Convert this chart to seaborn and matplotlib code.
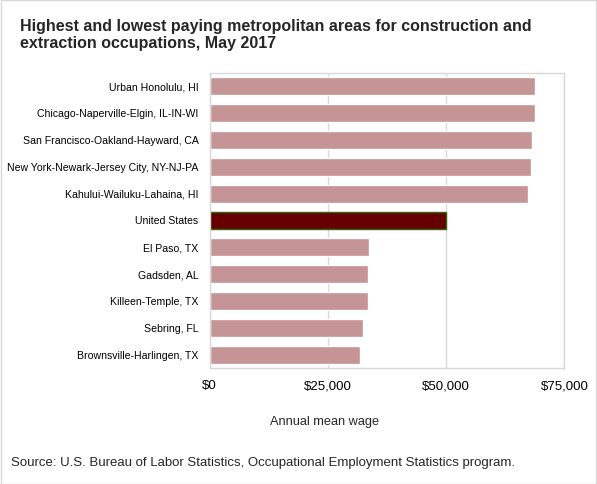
import matplotlib
matplotlib.use('Agg')
import matplotlib.pyplot as plt
import pandas as pd
import seaborn as sns
from matplotlib.ticker import FuncFormatter

# data
areas = ['Urban Honolulu, HI',
         'Chicago-Naperville-Elgin, IL-IN-WI',
         'San Francisco-Oakland-Hayward, CA',
         'New York-Newark-Jersey City, NY-NJ-PA',
         'Kahului-Wailuku-Lahaina, HI',
         'United States',
         'El Paso, TX',
         'Gadsden, AL',
         'Killeen-Temple, TX',
         'Sebring, FL',
         'Brownsville-Harlingen, TX',
         ]
wages = [68800, 68800, 68170, 67960, 67320, 49920,
         33690, 33480, 33480, 32420, 31790]
x_ticks = [0, 25000, 50000, 75000]

df = pd.DataFrame({'area': areas, 'wage': wages})
bar_colors = ['#660000' if a == 'United States' else '#C59494' for a in areas]

sns.set_theme(style='white')
plt.rcParams['font.family'] = ['Liberation Sans', 'DejaVu Sans']

fig = plt.figure(figsize=(5.97, 4.84), dpi=100)
ax = fig.add_axes([0.3513, 0.2397, 0.594, 0.6095])

sns.barplot(data=df, x='wage', y='area', hue='area', palette=bar_colors,
            legend=False, width=0.667, saturation=1, ax=ax)

# green outline around the national bar
for patch, a in zip(ax.patches, areas):
    if a == 'United States':
        patch.set_edgecolor('#336600')
        patch.set_linewidth(1.0)

ax.set_xlim(0, 75000)
ax.set_xticks(x_ticks)
ax.xaxis.set_major_formatter(FuncFormatter(lambda v, p: '${:,.0f}'.format(v)))
ax.grid(axis='x', color='#D9D9D9', linewidth=1)
ax.set_axisbelow(True)
for s in ax.spines.values():
    s.set_color('#D9D9D9')
    s.set_linewidth(1)
ax.tick_params(axis='both', length=0, colors='black')
ax.tick_params(axis='x', pad=9, labelsize=9.5)
ax.tick_params(axis='y', pad=8, labelsize=7.6)
ax.set_ylabel('')
ax.set_xlabel('Annual mean wage', fontsize=9.2)
ax.xaxis.set_label_coords(0.325, -0.183)
ax.xaxis.label.set_va('center')

fig.text(0.0335, 0.96,
         'Highest and lowest paying metropolitan areas for construction and\n'
         'extraction occupations, May 2017',
         fontsize=11.5, fontweight='bold', va='top', ha='left', linespacing=1.1)
fig.text(0.018, 0.0435,
         'Source: U.S. Bureau of Labor Statistics, Occupational Employment Statistics program.',
         fontsize=9.5, va='center', ha='left')

# light grey frame round the whole figure
fig.patches.append(plt.Rectangle((0.001, 0.001), 0.998, 0.998,
                                 transform=fig.transFigure, fill=False,
                                 edgecolor='#D9D9D9', linewidth=1))

fig.savefig('out.png', dpi=100)
